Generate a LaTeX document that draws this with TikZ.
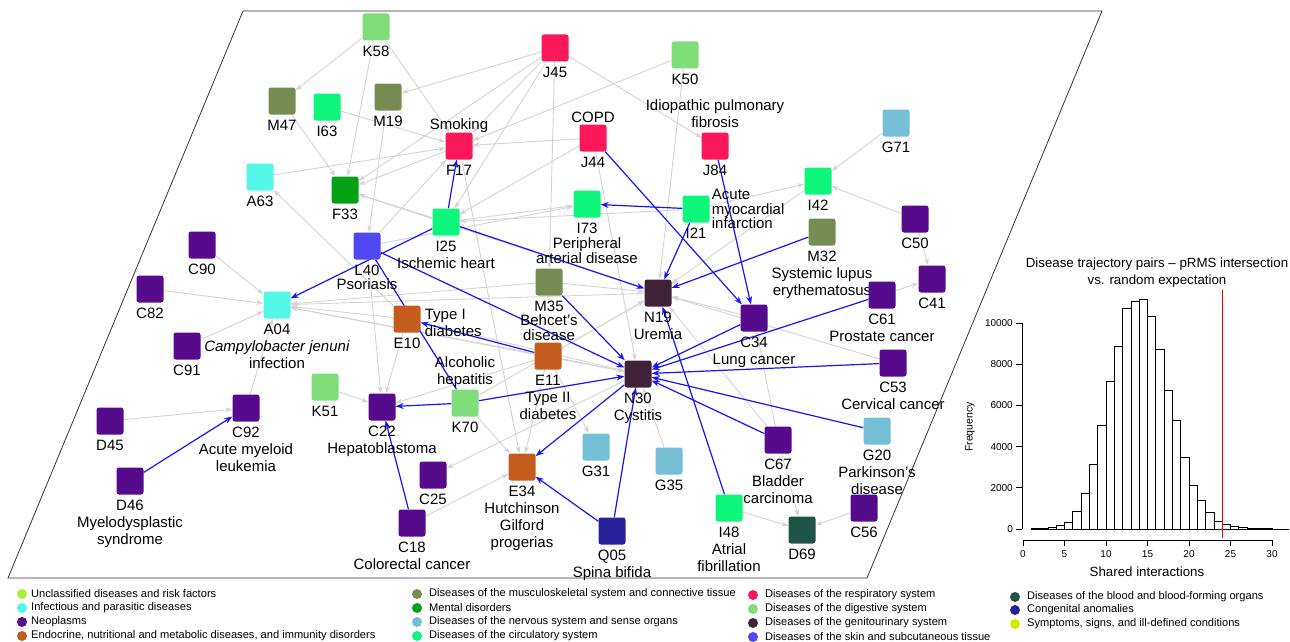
\documentclass[tikz,border=0pt]{standalone}
\usepackage{fontspec}
\setmainfont{Liberation Sans}
\usetikzlibrary{arrows.meta,backgrounds}
% category colours
\definecolor{cUnc}{RGB}{166,242,58}
\definecolor{cInf}{RGB}{82,247,231}
\definecolor{cNeo}{RGB}{86,10,140}
\definecolor{cEnd}{RGB}{196,92,30}
\definecolor{cMus}{RGB}{118,140,83}
\definecolor{cMen}{RGB}{5,161,20}
\definecolor{cNer}{RGB}{117,191,214}
\definecolor{cCir}{RGB}{13,245,122}
\definecolor{cRes}{RGB}{250,23,90}
\definecolor{cDig}{RGB}{128,222,122}
\definecolor{cGen}{RGB}{64,34,56}
\definecolor{cSki}{RGB}{80,72,242}
\definecolor{cBlo}{RGB}{31,84,70}
\definecolor{cCon}{RGB}{41,33,154}
\definecolor{cSym}{RGB}{212,232,0}
\definecolor{cEdge}{RGB}{212,212,212}
\definecolor{cBlue}{RGB}{20,20,255}

\begin{document}
\begin{tikzpicture}[x=1pt,y=-1pt,
  dis/.style={rectangle,rounded corners=2.5pt,minimum size=27pt,inner sep=0pt,fill=#1},
  every label/.style={font=\fontsize{15}{17}\selectfont,align=center,inner sep=0pt},
  label distance=5pt,
  gedge/.style={draw=cEdge,line width=0.9pt,-{Stealth[length=7pt,width=5pt]}},
  bedge/.style={draw=cBlue,line width=1.2pt,-{Stealth[length=8pt,width=6pt]}},
  legdot/.style={circle,inner sep=0pt,minimum size=10pt,fill=#1},
  legtxt/.style={anchor=west,inner sep=0pt,font=\fontsize{11.1}{12}\selectfont},
  axtxt/.style={inner sep=0pt,font=\fontsize{10}{12}\selectfont}]
  \useasboundingbox (0,0) rectangle (1290,642);
  \draw[black!80,line width=0.8pt] (243,11) -- (1102,11) -- (867,578) -- (8,578) -- cycle;

  % disease nodes
  \node[dis=cDig,label=below:K58] (K58) at (376,27) {};
  \node[dis=cMus,label=below:M47] (M47) at (282,101) {};
  \node[dis=cCir,label=below:I63] (I63) at (327,107) {};
  \node[dis=cMus,label=below:M19] (M19) at (388,97) {};
  \node[dis=cRes,label=below:F17,label={[label distance=-1pt]above:Smoking}] (F17) at (459,146) {};
  \node[dis=cInf,label=below:A63] (A63) at (260,177) {};
  \node[dis=cMen,label=below:F33] (F33) at (345,190) {};
  \node[dis=cCir,label={below:I25\\Ischemic heart}] (I25) at (446,222) {};
  \node[dis=cSki,label={[font=\fontsize{15}{14}\selectfont]below:L40\\Psoriasis}] (L40) at (367,246) {};
  \node[dis=cNeo,label=below:C90] (C90) at (202,245) {};
  \node[dis=cNeo,label=below:C82] (C82) at (150,289) {};
  \node[dis=cInf,label={below:A04\\\textit{Campylobacter jenuni}\\infection}] (A04) at (277,305) {};
  \node[dis=cRes,label=below:J45] (J45) at (555,48) {};
  \node[dis=cDig,label=below:K50] (K50) at (685,55) {};
  \node[dis=cRes,label=below:J84,label={[label distance=4pt]above:Idiopathic pulmonary\\fibrosis}] (J84) at (715,146) {};
  \node[dis=cRes,label=below:J44,label={[label distance=1pt]above:COPD}] (J44) at (593,138) {};
  \node[dis=cNer,label=below:G71] (G71) at (896,123) {};
  \node[dis=cCir,label=below:I42] (I42) at (818,181) {};
  \node[dis=cCir,label={[font=\fontsize{15}{15}\selectfont]below:I73\\Peripheral\\arterial disease}] (I73) at (587,204) {};
  \node[dis=cCir,label=below:I21,label={[align=left,label distance=2pt,font=\fontsize{15}{14.5}\selectfont]right:Acute\\myocardial\\infarction}] (I21) at (696,209) {};
  \node[dis=cNeo,label=below:C50] (C50) at (915,219) {};
  \node[dis=cMus,label={below:M32\\Systemic lupus\\erythematosus}] (M32) at (822,232) {};
  \node[dis=cNeo,label=below:C41] (C41) at (932,279) {};
  \node[dis=cGen,label={below:N19\\Uremia}] (N19) at (658,293) {};
  \node[dis=cNeo,label={below:C61\\Prostate cancer}] (C61) at (882,295) {};
  \node[dis=cMus,label={[font=\fontsize{15}{14.5}\selectfont]below:M35\\Behcet's\\disease}] (M35) at (549,282) {};
  \node[dis=cNeo,label={below:C34\\Lung cancer}] (C34) at (754,318) {};
  \node[dis=cEnd,label=below:E10,label={[align=left,label distance=4pt,yshift=-4pt]right:Type I\\diabetes}] (E10) at (407,319) {};
  \node[dis=cEnd,label={below:E11\\Type II\\diabetes}] (E11) at (548,356) {};
  \node[dis=cGen,label={below:N30\\Cystitis}] (N30) at (638,374) {};
  \node[dis=cNeo,label={below:C53\\Cervical cancer}] (C53) at (893,363) {};
  \node[dis=cNeo,label=below:C91] (C91) at (187,346) {};
  \node[dis=cDig,label=below:K51] (K51) at (325,387) {};
  \node[dis=cNeo,label={below:C22\\Hepatoblastoma}] (C22) at (382,407) {};
  \node[dis=cDig,label=below:K70,label={[label distance=1pt]above:Alcoholic\\hepatitis}] (K70) at (465,403) {};
  \node[dis=cNeo,label=below:D45] (D45) at (110,421) {};
  \node[dis=cNeo,label={below:C92\\Acute myeloid\\leukemia}] (C92) at (246,408) {};
  \node[dis=cNeo,label={below:D46\\Myelodysplastic\\syndrome}] (D46) at (130,481) {};
  \node[dis=cNeo,label=below:C25] (C25) at (433,475) {};
  \node[dis=cNeo,label={below:C18\\Colorectal cancer}] (C18) at (412,523) {};
  \node[dis=cNer,label=below:G31] (G31) at (596,447) {};
  \node[dis=cNer,label=below:G35] (G35) at (669,461) {};
  \node[dis=cEnd,label={below:E34\\Hutchinson\\Gilford\\progerias}] (E34) at (522,467) {};
  \node[dis=cCon,label={below:Q05\\Spina bifida}] (Q05) at (612,531) {};
  \node[dis=cNeo,label={below:C67\\Bladder\\carcinoma}] (C67) at (778,440) {};
  \node[dis=cNer,label={below:G20\\Parkinson's\\disease}] (G20) at (877,431) {};
  \node[dis=cCir,label={below:I48\\Atrial\\fibrillation}] (I48) at (729,508) {};
  \node[dis=cBlo,label=below:D69] (D69) at (802,530) {};
  \node[dis=cNeo,label=below:C56] (C56) at (864,508) {};

  \begin{scope}[on background layer]
   % trajectories, grey
   \draw[gedge] (K58) -- (M47);
   \draw[gedge] (K58) -- (F33);
   \draw[gedge] (K58) -- (F17);
   \draw[gedge] (J45) -- (M19);
   \draw[gedge] (J45) -- (F17);
   \draw[gedge] (J45) -- (F33);
   \draw[gedge] (J45) -- (I25);
   \draw[gedge] (J45) -- (M35);
   \draw[gedge] (J45) -- (J84);
   \draw[gedge] (K50) -- (F17);
   \draw[gedge] (K50) -- (N19);
   \draw[gedge] (I63) -- (F17);
   \draw[gedge] (M47) -- (F33);
   \draw[gedge] (M19) -- (L40);
   \draw[gedge] (A63) -- (F17);
   \draw[gedge] (F17) -- (F33);
   \draw[gedge] (I25) -- (F33);
   \draw[gedge] (N19) -- (F33);
   \draw[gedge] (E10) -- (A63);
   \draw[gedge] (J44) -- (F17);
   \draw[gedge] (J44) -- (I25);
   \draw[gedge] (J44) -- (N30);
   \draw[gedge] (I21) -- (I25);
   \draw[gedge] (I25) -- (I73);
   \draw[gedge] (L40) -- (I73);
   \draw[gedge] (L40) -- (F17);
   \draw[gedge] (I21) -- (I42);
   \draw[gedge] (G71) -- (I42);
   \draw[gedge] (C50) -- (I42);
   \draw[gedge] (C50) -- (C41);
   \draw[gedge] (C61) -- (C41);
   \draw[gedge] (I42) -- (N19);
   \draw[gedge] (C34) -- (N19);
   \draw[gedge] (C53) -- (N19);
   \draw[gedge] (C67) -- (C34);
   \draw[gedge] (C67) -- (N19);
   \draw[gedge] (C67) -- (D69);
   \draw[gedge] (I48) -- (D69);
   \draw[gedge] (C56) -- (D69);
   \draw[gedge] (E11) -- (E34);
   \draw[gedge] (K70) -- (E34);
   \draw[gedge] (C18) -- (E34);
   \draw[gedge] (F17) -- (E34);
   \draw[gedge] (N30) -- (C25);
   \draw[gedge] (E11) -- (G31);
   \draw[gedge] (G35) -- (N30);
   \draw[gedge] (E10) -- (C22);
   \draw[gedge] (K51) -- (C22);
   \draw[gedge] (L40) -- (C22);
   \draw[gedge] (E11) -- (C22);
   \draw[gedge] (C90) -- (A04);
   \draw[gedge] (C82) -- (A04);
   \draw[gedge] (C91) -- (A04);
   \draw[gedge] (C92) -- (A04);
   \draw[gedge] (D45) -- (C92);
   \draw[gedge] (E10) -- (A04);
   \draw[gedge] (E11) -- (A04);
   \draw[gedge] (N30) -- (A04);
   \draw[gedge] (M35) -- (A04);
   \draw[gedge] (N19) -- (A04);
   \draw[gedge] (M35) -- (N19);
   \draw[gedge] (E11) -- (N30);
   \draw[gedge] (E10) -- (N30);
   \draw[gedge] (E11) -- (N19);
   \draw[gedge] (K70) -- (N19);
   % trajectories, blue
   \draw[bedge] (I25) -- (F17);
   \draw[bedge] (I25) -- (A04);
   \draw[bedge] (L40) -- (N30);
   \draw[bedge,-] (L40) -- (K70);
   \draw[bedge] (I25) -- (N19);
   \draw[bedge] (I21) -- (I73);
   \draw[bedge] (I21) -- (N19);
   \draw[bedge] (J44) -- (C34);
   \draw[bedge] (J84) -- (C34);
   \draw[bedge] (M32) -- (N19);
   \draw[bedge] (M35) -- (N30);
   \draw[bedge] (E11) -- (E10);
   \draw[bedge] (K70) -- (C22);
   \draw[bedge] (K70) -- (N30);
   \draw[bedge] (N30) -- (E34);
   \draw[bedge] (Q05) -- (E34);
   \draw[bedge] (Q05) -- (N30);
   \draw[bedge] (C18) -- (C22);
   \draw[bedge] (D46) -- (C92);
   \draw[bedge] (I48) -- (N19);
   \draw[bedge] (C34) -- (N30);
   \draw[bedge] (C61) -- (N30);
   \draw[bedge] (C53) -- (N30);
   \draw[bedge] (C67) -- (N30);
   \draw[bedge] (G20) -- (N30);
  \end{scope}

  % histogram
  \begin{scope}[shift={(1023,529)},x=8.3pt,y=0.0206pt,line width=0.7pt]
   \draw (1,0) rectangle (2,8) (2,0) rectangle (3,15) (3,0) rectangle (4,70)
     (4,0) rectangle (5,160) (5,0) rectangle (6,340) (6,0) rectangle (7,850)
     (7,0) rectangle (8,1740) (8,0) rectangle (9,3150) (9,0) rectangle (10,5020)
     (10,0) rectangle (11,7150) (11,0) rectangle (12,8890) (12,0) rectangle (13,10710)
     (13,0) rectangle (14,11030) (14,0) rectangle (15,11130) (15,0) rectangle (16,10340)
     (16,0) rectangle (17,8740) (17,0) rectangle (18,6740) (18,0) rectangle (19,5260)
     (19,0) rectangle (20,3470) (20,0) rectangle (21,2100) (21,0) rectangle (22,1370)
     (22,0) rectangle (23,820) (23,0) rectangle (24,390) (24,0) rectangle (25,240)
     (25,0) rectangle (26,110) (26,0) rectangle (27,60) (27,0) rectangle (28,30)
     (28,0) rectangle (29,15) (29,0) rectangle (30,8) (30,0) rectangle (31,5)
     (31,0) rectangle (32,3);
  \end{scope}
  \draw[line width=0.7pt] (1022,529) -- (1022,323);
  \draw[line width=0.7pt] (1022,529) -- (1016,529) (1022,487.8) -- (1016,487.8)
    (1022,446.6) -- (1016,446.6) (1022,405.4) -- (1016,405.4)
    (1022,364.2) -- (1016,364.2) (1022,323) -- (1016,323);
  \node[axtxt,anchor=east] (yt0) at (1013,529) {0};
  \node[axtxt,anchor=east] (yt1) at (1013,487.8) {2000};
  \node[axtxt,anchor=east] (yt2) at (1013,446.6) {4000};
  \node[axtxt,anchor=east] (yt3) at (1013,405.4) {6000};
  \node[axtxt,anchor=east] (yt4) at (1013,364.2) {8000};
  \node[axtxt,anchor=east] (yt5) at (1013,323) {10000};
  \draw[line width=0.7pt] (1023,540) -- (1272,540);
  \draw[line width=0.7pt] (1023,540) -- (1023,546) (1064.5,540) -- (1064.5,546)
    (1106,540) -- (1106,546) (1147.5,540) -- (1147.5,546) (1189,540) -- (1189,546)
    (1230.5,540) -- (1230.5,546) (1272,540) -- (1272,546);
  \node[axtxt] (xt0) at (1023,554) {0};
  \node[axtxt] (xt1) at (1064.5,554) {5};
  \node[axtxt] (xt2) at (1106,554) {10};
  \node[axtxt] (xt3) at (1147.5,554) {15};
  \node[axtxt] (xt4) at (1189,554) {20};
  \node[axtxt] (xt5) at (1230.5,554) {25};
  \node[axtxt] (xt6) at (1272,554) {30};
  \draw[red,line width=0.9pt] (1222,290) -- (1222,538);
  \node[inner sep=0pt,font=\fontsize{13.3}{17}\selectfont,align=center] (htitle) at (1157,273)
    {Disease trajectory pairs -- pRMS intersection\\vs. random expectation};
  \node[inner sep=0pt,font=\fontsize{13.3}{16}\selectfont] (hxlab) at (1147,572) {Shared interactions};
  \node[inner sep=0pt,font=\fontsize{10.5}{12}\selectfont,rotate=90] (hylab) at (970,427) {Frequency};

  % legend
  \node[legdot=cUnc] (d1) at (22,594) {};
  \node[legtxt] (t1) at (31,594) {Unclassified diseases and risk factors};
  \node[legdot=cInf] (d2) at (22,608) {};
  \node[legtxt] (t2) at (31,608) {Infectious and parasitic diseases};
  \node[legdot=cNeo] (d3) at (22,622) {};
  \node[legtxt] (t3) at (31,622) {Neoplasms};
  \node[legdot=cEnd] (d4) at (22,636) {};
  \node[legtxt] (t4) at (31,636) {Endocrine, nutritional and metabolic diseases, and immunity disorders};
  \node[legdot=cMus] (d5) at (417,594) {};
  \node[legtxt] (t5) at (429,594) {Diseases of the musculoskeletal system and connective tissue};
  \node[legdot=cMen] (d6) at (417,608) {};
  \node[legtxt] (t6) at (429,608) {Mental disorders};
  \node[legdot=cNer] (d7) at (417,622) {};
  \node[legtxt] (t7) at (429,622) {Diseases of the nervous system and sense organs};
  \node[legdot=cCir] (d8) at (417,636) {};
  \node[legtxt] (t8) at (429,636) {Diseases of the circulatory system};
  \node[legdot=cRes] (d9) at (753,595) {};
  \node[legtxt] (t9) at (765,595) {Diseases of the respiratory system};
  \node[legdot=cDig] (d10) at (753,609) {};
  \node[legtxt] (t10) at (765,609) {Diseases of the digestive system};
  \node[legdot=cGen] (d11) at (753,623) {};
  \node[legtxt] (t11) at (765,623) {Diseases of the genitourinary system};
  \node[legdot=cSki] (d12) at (753,637) {};
  \node[legtxt] (t12) at (765,637) {Diseases of the skin and subcutaneous tissue};
  \node[legdot=cBlo] (d13) at (1015,597) {};
  \node[legtxt] (t13) at (1027,597) {Diseases of the blood and blood-forming organs};
  \node[legdot=cCon] (d14) at (1015,610) {};
  \node[legtxt] (t14) at (1027,610) {Congenital anomalies};
  \node[legdot=cSym] (d15) at (1015,624) {};
  \node[legtxt] (t15) at (1027,624) {Symptoms, signs, and ill-defined conditions};
\end{tikzpicture}
\end{document}
